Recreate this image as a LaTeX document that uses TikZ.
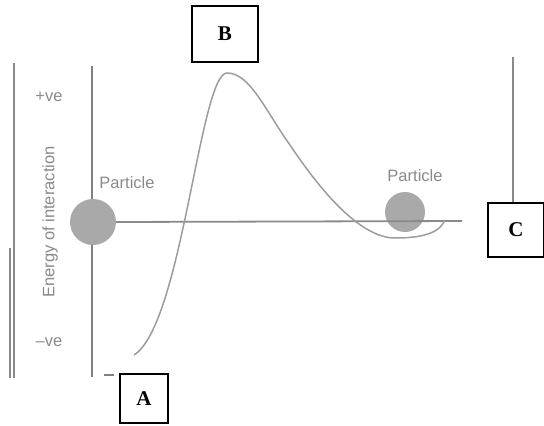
\documentclass[tikz,border=0pt]{standalone}
\usepackage{fontspec}
\setmainfont{Liberation Serif}
\newfontfamily\labfont{Liberation Sans}
\definecolor{axisgray}{HTML}{8A8A8A}
\definecolor{ballgray}{HTML}{A9A9A9}
\definecolor{textgray}{HTML}{8A8A8A}
\definecolor{curvegray}{HTML}{9C9C9C}
\tikzset{
  lettbox/.style={draw=black, line width=1.1pt, minimum width=#1, inner sep=0pt, font=\fontsize{21}{21}\selectfont\bfseries},
  ball/.style={circle, fill=ballgray, inner sep=0pt, minimum size=#1},
  glabel/.style={text=textgray, font=\labfont\fontsize{16.5}{16.5}\selectfont, inner sep=0pt},
  axisline/.style={draw=axisgray, line width=1.8pt},
  curveline/.style={draw=curvegray, line width=1.5pt}
}
\begin{document}
\begin{tikzpicture}[x=1pt, y=-1pt]
\useasboundingbox (0,0) rectangle (544,426);
% far left edge lines
\draw[axisline, line width=1.4pt] (14,63) -- (14,378);
\draw[axisline, line width=1.4pt] (10,248) -- (10,378);
% y-axis
\coordinate (ytop) at (92,66);
\coordinate (ybot) at (92,377);
\draw[axisline, draw=gray] (ytop) -- (ybot);
% bottom small marks
\draw[axisline, draw=gray] (104,375) -- (114,375);
% x-axis
\coordinate (xend) at (462,221);
\node[ball=46pt] (p1) at (93,222) {};
\node[ball=40pt] (p2) at (405,212) {};
\draw[axisline] (p1.east) -- (xend);
% curve
\coordinate (cstart) at (134,355);
\coordinate (cpeak) at (227,73);
\coordinate (cinfl) at (290,145);
\coordinate (cmin) at (395,238);
\coordinate (cend) at (445,220);
\draw[curveline] (cstart) .. controls (182,325) and (200,73) .. (cpeak)
  .. controls (250,73) and (265,110) .. (cinfl)
  .. controls (320,190) and (360,238) .. (cmin)
  .. controls (425,238) and (440,232) .. (cend);
% labels
\node[glabel] (lp1) at (127,183) {Particle};
\node[glabel] (lp2) at (415,176) {Particle};
\node[glabel] (pos) at (49,97) {+ve};
\node[glabel] (neg) at (49,342) {\textendash ve};
\node[glabel, rotate=90] (ener) at (50,222) {Energy of interaction};
% boxes
\node[lettbox=66pt, minimum height=56pt] (B) at (225,34) {B};
\node[lettbox=48pt, minimum height=49pt] (A) at (144,398.5) {A};
\node[lettbox=56pt, minimum height=54pt] (C) at (516,230) {C};
\coordinate (ctop) at (513,57);
\draw[axisline, line width=1.5pt] (ctop) -- (ctop |- C.north);
\end{tikzpicture}
\end{document}
